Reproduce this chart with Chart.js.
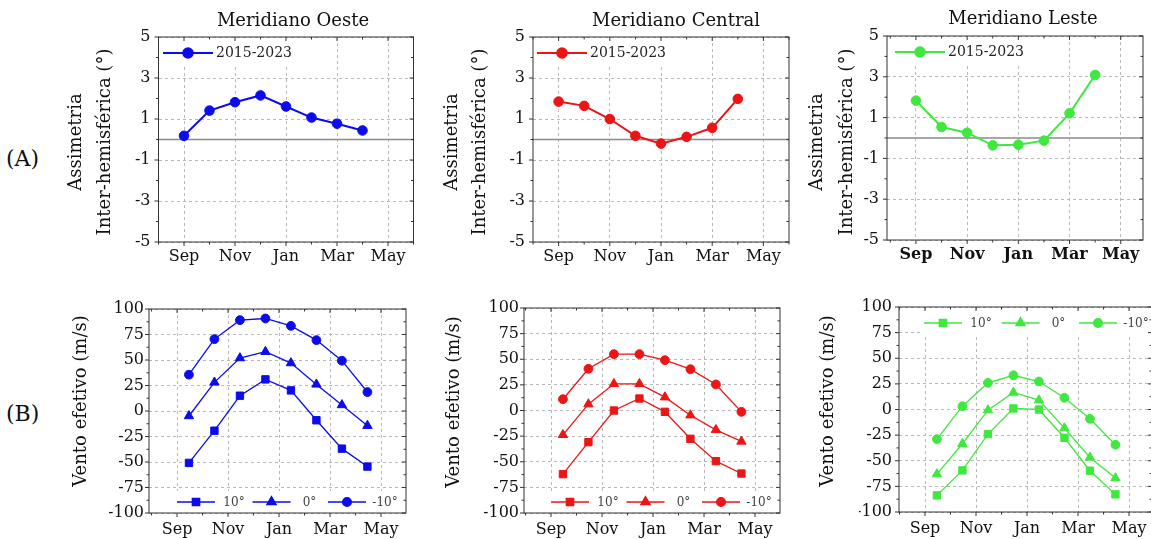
<!DOCTYPE html>
<html><head><meta charset="utf-8">
<script src="https://cdn.jsdelivr.net/npm/chart.js@4.4.1/dist/chart.umd.min.js"></script>
<style>
html,body{margin:0;padding:0;width:1151px;height:539px;overflow:hidden;background:#fff;}
canvas{position:absolute;left:0;top:0;}
.lab{position:absolute;font-family:'DejaVu Serif',serif;font-size:22px;line-height:22px;color:#111;}
</style></head><body>
<div class="lab" style="left:6px;top:148px">(A)</div>
<div class="lab" style="left:6px;top:403px">(B)</div>
<canvas id="a1" width="1160" height="539"></canvas>
<canvas id="a2" width="1160" height="539"></canvas>
<canvas id="a3" width="1160" height="539"></canvas>
<canvas id="b1" width="1160" height="539"></canvas>
<canvas id="b2" width="1160" height="539"></canvas>
<canvas id="b3" width="1160" height="539"></canvas>
<script>
// ---------- data ----------
const months = ['Sep','Oct','Nov','Dec','Jan','Feb','Mar','Apr'];
const monthIndex = [0,1,2,3,4,5,6,7];
const dayTop = 1;      // upper panels: start of month
const dayBottom = 15;  // lower panels: middle of month
const xTickValues = [0,2,4,6,8];
const xTickLabels = ['Sep','Nov','Jan','Mar','May'];
const xMinorValues = [-1,1,3,5,7,9];

const asymTicks = [-5,-3,-1,1,3,5];
const asymMinor = [-4,-2,0,2,4];
const windTicks = [-100,-75,-50,-25,0,25,50,75,100];
const windMinor = [-87.5,-62.5,-37.5,-12.5,12.5,37.5,62.5,87.5];

const periodLabel = '2015-2023';
const asymOeste   = [0.18, 1.41, 1.82, 2.15, 1.61, 1.07, 0.77, 0.44];
const asymCentral = [1.85, 1.64, 1.00, 0.18, -0.20, 0.13, 0.57, 1.98];
const asymLeste   = [1.83, 0.54, 0.26, -0.36, -0.33, -0.13, 1.21, 3.09];

const latLabels = ['10°','0°','-10°'];
const windOeste10   = [-50.9, -19.3, 15.0, 31.0, 20.2, -9.1, -36.9, -54.5];
const windOeste0    = [-4.9, 28.1, 51.9, 58.1, 47.0, 26.1, 5.9, -14.4];
const windOesteM10  = [35.6, 70.5, 89.1, 90.7, 83.5, 69.5, 49.3, 18.6];
const windCentral10  = [-62.1, -30.9, 0.0, 11.7, -1.3, -27.6, -49.4, -61.5];
const windCentral0   = [-23.7, 6.2, 26.0, 26.0, 13.0, -4.6, -18.9, -30.2];
const windCentralM10 = [11.0, 40.7, 55.0, 55.0, 49.1, 40.3, 25.4, -1.3];
const windLeste10   = [-83.8, -59.4, -24.0, 1.0, 0.0, -27.6, -59.7, -82.8];
const windLeste0    = [-63.0, -33.4, -0.6, 16.6, 9.1, -18.2, -46.8, -66.9];
const windLesteM10  = [-28.9, 3.2, 26.0, 33.4, 27.3, 11.4, -9.1, -34.4];

// ---------- styling ----------
const FAM = "'DejaVu Serif', 'Liberation Serif', serif";
const BLUE = '#0b0bec', RED = '#ec1515', GREEN = '#3ee83e';
const W = 1160, H = 539, AXW = 40, AXH = 30;

const decor = {
  id: 'decor',
  beforeDatasetsDraw(chart, args, o) {
    const {ctx, chartArea: a, scales} = chart;
    ctx.save();
    if (o.legend) {
      ctx.fillStyle = '#fff';
      const lb = o.legend.box;
      ctx.fillRect(lb[0], lb[1], lb[2], lb[3]);
    }
    if (o.zeroLine) {
      const y = scales.y.getPixelForValue(0);
      ctx.strokeStyle = '#8a8a8a'; ctx.lineWidth = 1.5;
      ctx.beginPath(); ctx.moveTo(a.left, y); ctx.lineTo(a.right, y); ctx.stroke();
    }
    ctx.restore();
  },
  afterDraw(chart, args, o) {
    const {ctx, chartArea: a, scales} = chart;
    ctx.save();
    ctx.strokeStyle = '#333'; ctx.lineWidth = 1;
    ctx.strokeRect(a.left, a.top, a.right - a.left, a.bottom - a.top);
    const tick = (x1,y1,x2,y2) => { ctx.beginPath(); ctx.moveTo(x1,y1); ctx.lineTo(x2,y2); ctx.stroke(); };
    o.yTicks.forEach(v => { const y = scales.y.getPixelForValue(v); tick(a.left - 4, y, a.left, y); tick(a.right, y, a.right - 4, y); });
    o.yMinor.forEach(v => { const y = scales.y.getPixelForValue(v); tick(a.left - 2.5, y, a.left, y); tick(a.right, y, a.right - 2.5, y); });
    xTickValues.forEach(v => { const x = scales.x.getPixelForValue(v); tick(x, a.bottom, x, a.bottom + 4); tick(x, a.top, x, a.top + 4); });
    xMinorValues.forEach(v => { const x = scales.x.getPixelForValue(v); if (x < a.left - 0.5 || x > a.right + 0.5) return; tick(x, a.bottom, x, a.bottom + 2.5); tick(x, a.top, x, a.top + 2.5); });
    ctx.fillStyle = '#111';
    ctx.font = '18px ' + FAM; ctx.textAlign = 'center'; ctx.textBaseline = 'middle';
    if (o.title) ctx.fillText(o.title.text, o.title.x, o.title.y);
    o.ytitle.lines.forEach((t, i) => {
      ctx.save(); ctx.translate(o.ytitle.xs[i], o.ytitle.y); ctx.rotate(-Math.PI/2);
      ctx.fillText(t, 0, 0); ctx.restore();
    });
    if (o.legend) {
      const L = o.legend;
      chart.data.datasets.forEach((ds, i) => {
        const x0 = L.x + i * L.step, y = L.y;
        ctx.strokeStyle = ds.borderColor; ctx.lineWidth = ds.borderWidth;
        tick(x0, y, x0 + L.len, y);
        ctx.fillStyle = ds.backgroundColor; ctx.strokeStyle = ds.borderColor;
        Chart.helpers.drawPoint(ctx, {pointStyle: ds.pointStyle, radius: ds.pointRadius, rotation: 0, borderWidth: 1}, x0 + L.len/2, y);
        ctx.fillStyle = L.textColor; ctx.font = L.font + 'px ' + FAM;
        ctx.textAlign = L.align; ctx.textBaseline = 'middle';
        ctx.fillText(ds.label, x0 + L.textDx, y + 0.5);
      });
    }
    ctx.restore();
  }
};

function makePanel(id, p) {
  const datasets = p.series.map((s, k) => ({
    label: p.labels[k],
    data: s.map((v, i) => ({x: monthIndex[i] + (p.day - 1) / 30, y: v})),
    borderColor: p.color, backgroundColor: p.color,
    borderWidth: p.lineWidth, pointStyle: p.styles[k], pointRadius: p.radii[k],
    pointHoverRadius: p.radii[k], pointBorderWidth: 1, tension: 0
  }));
  const gridOpts = {color: '#b8b8b8', lineWidth: 1, drawTicks: false};
  return new Chart(document.getElementById(id), {
    type: 'line',
    data: {datasets},
    plugins: [decor],
    options: {
      responsive: false, animation: false, devicePixelRatio: 1,
      layout: {autoPadding: false, padding: {left: p.L - AXW, top: p.T, right: W - p.R, bottom: H - p.B - AXH}},
      plugins: {legend: {display: false}, title: {display: false}, tooltip: {enabled: false},
        decor: {zeroLine: p.zero, yTicks: p.yTicks, yMinor: p.yMinor, title: p.title, ytitle: p.ytitle, legend: p.legend}},
      scales: {
        x: {type: 'linear', min: p.xMin, max: p.xMax,
          afterBuildTicks: s => { s.ticks = xTickValues.map(v => ({value: v})); },
          afterFit: s => { s.height = AXH; },
          grid: gridOpts, border: {display: false, dash: [3, 3]},
          ticks: {autoSkip: false, maxRotation: 0, padding: p.xPad, color: '#111',
            font: {family: FAM, size: 16, weight: p.xBold ? 'bold' : 'normal'},
            callback: (v, i) => xTickLabels[i]}},
        y: {type: 'linear', min: p.yTicks[0], max: p.yTicks[p.yTicks.length - 1],
          afterBuildTicks: s => { s.ticks = p.yTicks.map(v => ({value: v})); },
          afterFit: s => { s.width = AXW; },
          grid: gridOpts, border: {display: false, dash: [3, 3]},
          ticks: {autoSkip: false, padding: p.yPad, color: '#111', font: {family: FAM, size: 16}}}
      }
    }
  });
}

const topCommon = {day: dayTop, labels: [periodLabel], styles: ['circle'], radii: [4.8], lineWidth: 2,
  yTicks: asymTicks, yMinor: asymMinor, zero: true, xPad: 5, yPad: 8};
const botCommon = {day: dayBottom, labels: latLabels, styles: ['rect', 'triangle', 'circle'], radii: [5.2, 5.4, 4.4], lineWidth: 1.3,
  yTicks: windTicks, yMinor: windMinor, zero: false, xPad: 7, yPad: 5};
const yTitleA = ['Assimetria', 'Inter-hemisférica (°)'];
const yTitleB = ['Vento efetivo (m/s)'];

function legA(x, y) { return {x, y, step: 0, len: 50, textDx: 53, align: 'left', font: 14, textColor: '#222', box: [x - 4, y - 15, 140, 26]}; }
function legB(x, y, step) { return {x, y, step, len: 38, textDx: 57, align: 'center', font: 12, textColor: '#444', box: [x - 4, y - 11, step * 2 + 80, 22]}; }

makePanel('a1', Object.assign({}, topCommon, {L: 158.5, T: 37, R: 413.5, B: 242, xMin: -1, xMax: 9, color: BLUE,
  series: [asymOeste], title: {text: 'Meridiano Oeste', x: 293, y: 21},
  ytitle: {lines: yTitleA, xs: [76, 105], y: 142}, legend: legA(163, 53)}));
makePanel('a2', Object.assign({}, topCommon, {L: 533, T: 37, R: 789, B: 242, xMin: -1, xMax: 9, color: RED,
  series: [asymCentral], title: {text: 'Meridiano Central', x: 676, y: 21},
  ytitle: {lines: yTitleA, xs: [452, 480], y: 142}, legend: legA(537, 53)}));
makePanel('a3', Object.assign({}, topCommon, {L: 887, T: 36, R: 1143, B: 240, xMin: -1.13, xMax: 8.87, color: GREEN, xBold: true,
  series: [asymLeste], title: {text: 'Meridiano Leste', x: 1023, y: 19},
  ytitle: {lines: yTitleA, xs: [817, 847], y: 142}, legend: legA(895, 52)}));
makePanel('b1', Object.assign({}, botCommon, {L: 149, T: 309, R: 406, B: 513, xMin: -1.1, xMax: 8.98, color: BLUE,
  series: [windOeste10, windOeste0, windOesteM10],
  ytitle: {lines: yTitleB, xs: [81], y: 401}, legend: legB(177, 502, 75.5)}));
makePanel('b2', Object.assign({}, botCommon, {L: 524, T: 308, R: 780, B: 513, xMin: -1.06, xMax: 8.98, color: RED,
  series: [windCentral10, windCentral0, windCentralM10],
  ytitle: {lines: yTitleB, xs: [454], y: 402}, legend: legB(551, 502, 75.5)}));
makePanel('b3', Object.assign({}, botCommon, {L: 899, T: 307, R: 1152, B: 512, xMin: -1.02, xMax: 8.9, color: GREEN, yPad: 7,
  series: [windLeste10, windLeste0, windLesteM10],
  ytitle: {lines: yTitleB, xs: [828], y: 401}, legend: legB(924, 323, 77.5)}));
</script>
</body></html>
